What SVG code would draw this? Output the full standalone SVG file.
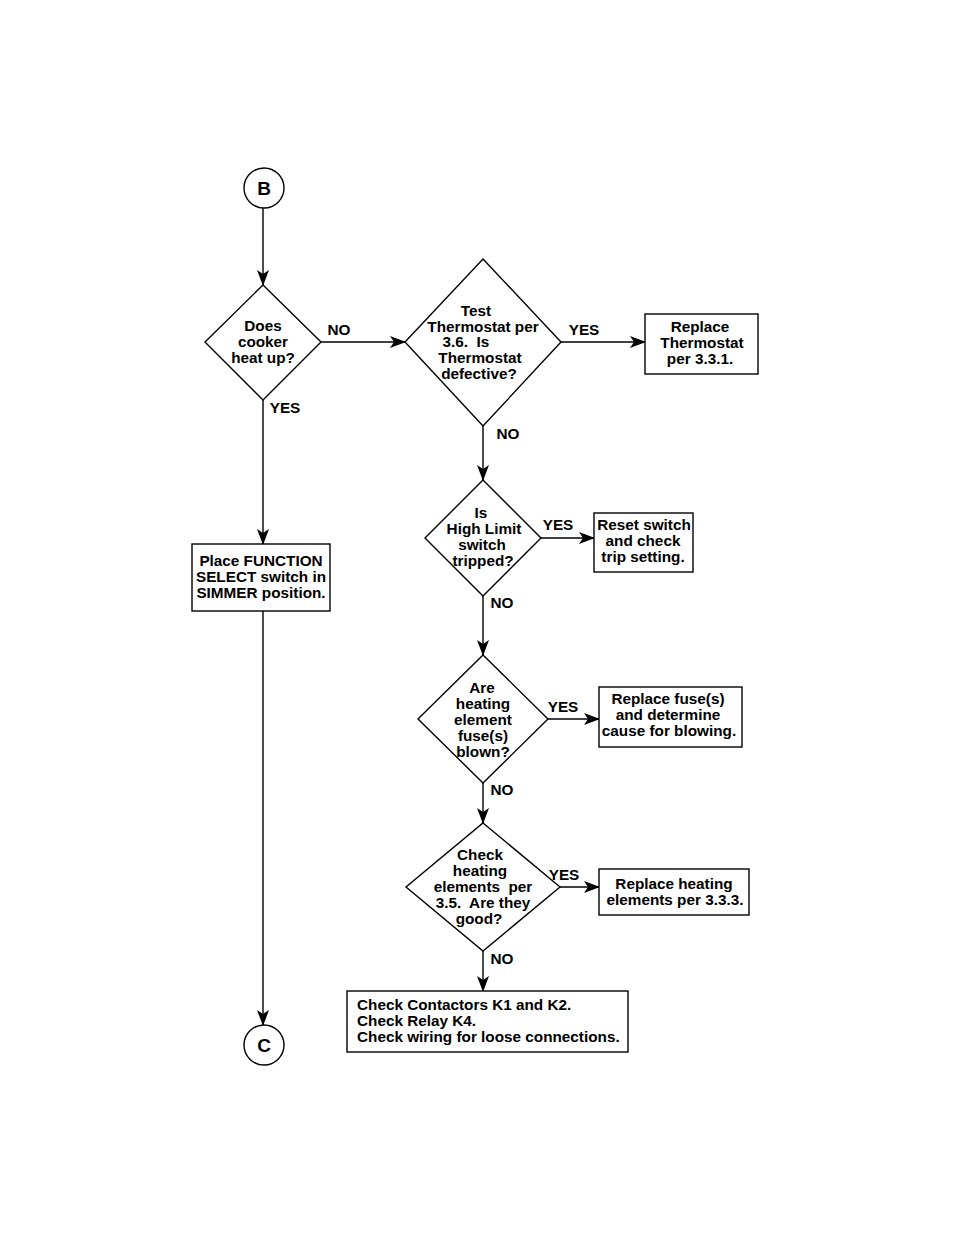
<svg xmlns="http://www.w3.org/2000/svg" width="954" height="1235" viewBox="0 0 954 1235">
<defs>
<marker id="ah" markerWidth="16" markerHeight="14" refX="15" refY="7" orient="auto" markerUnits="userSpaceOnUse">
<path d="M0,1 L16,7 L0,13 L4,7 z" fill="#000"/>
</marker>
<style>
.s{fill:#fff;stroke:#000;stroke-width:1.4}
.c{fill:none;stroke:#000;stroke-width:1.4}
text{font-family:"Liberation Sans",Arial,Helvetica,sans-serif;font-weight:bold;font-size:15.3px;fill:#000;white-space:pre}
.m{text-anchor:middle}
.b{font-size:19px}
</style>
</defs>
<rect width="954" height="1235" fill="#fff"/>
<g id="connectors">
<line class="c" x1="263" y1="208" x2="263" y2="285" marker-end="url(#ah)"/>
<line class="c" x1="321" y1="342" x2="405" y2="342" marker-end="url(#ah)"/>
<line class="c" x1="561" y1="342" x2="645" y2="342" marker-end="url(#ah)"/>
<line class="c" x1="263" y1="400" x2="263" y2="544" marker-end="url(#ah)"/>
<line class="c" x1="263" y1="611" x2="263" y2="1025" marker-end="url(#ah)"/>
<line class="c" x1="483" y1="426" x2="483" y2="480" marker-end="url(#ah)"/>
<line class="c" x1="541" y1="538" x2="594" y2="538" marker-end="url(#ah)"/>
<line class="c" x1="483" y1="596" x2="483" y2="655" marker-end="url(#ah)"/>
<line class="c" x1="548" y1="719" x2="599" y2="719" marker-end="url(#ah)"/>
<line class="c" x1="483" y1="783" x2="483" y2="823" marker-end="url(#ah)"/>
<line class="c" x1="560" y1="887" x2="599" y2="887" marker-end="url(#ah)"/>
<line class="c" x1="483" y1="951" x2="483" y2="991" marker-end="url(#ah)"/>
<text x="339" y="335" class="m">NO</text>
<text x="584" y="335" class="m">YES</text>
<text x="285" y="413" class="m">YES</text>
<text x="508" y="439" class="m">NO</text>
<text x="558" y="530" class="m">YES</text>
<text x="502" y="608" class="m">NO</text>
<text x="563" y="712" class="m">YES</text>
<text x="502" y="795" class="m">NO</text>
<text x="564" y="880" class="m">YES</text>
<text x="502" y="964" class="m">NO</text>
</g>
<g id="nodeB">
<circle class="s" cx="264" cy="188" r="20"/>
<text x="264" y="195" class="m b">B</text>
</g>
<g id="d1">
<polygon class="s" points="263,285 321,342 263,400 205,342"/>
<text x="263" y="331" class="m">Does</text>
<text x="263" y="347" class="m">cooker</text>
<text x="263" y="363" class="m">heat up?</text>
</g>
<g id="d2">
<polygon class="s" points="483,259 561,342 483,426 405,342"/>
<text x="476" y="316" class="m">Test</text>
<text x="483" y="332" class="m">Thermostat per</text>
<text x="466" y="347" class="m">3.6.  Is</text>
<text x="480" y="363" class="m">Thermostat</text>
<text x="479" y="379" class="m">defective?</text>
</g>
<g id="b1">
<rect class="s" x="645" y="314" width="113" height="60"/>
<text x="700" y="332" class="m">Replace</text>
<text x="702" y="348" class="m">Thermostat</text>
<text x="700" y="364" class="m">per 3.3.1.</text>
</g>
<g id="b2">
<rect class="s" x="192" y="544" width="138" height="67"/>
<text x="261" y="566" class="m">Place FUNCTION</text>
<text x="261" y="582" class="m">SELECT switch in</text>
<text x="261" y="598" class="m">SIMMER position.</text>
</g>
<g id="d3">
<polygon class="s" points="483,480 541,538 483,596 425,538"/>
<text x="481" y="518" class="m">Is</text>
<text x="484" y="534" class="m">High Limit</text>
<text x="482" y="550" class="m">switch</text>
<text x="483" y="566" class="m">tripped?</text>
</g>
<g id="b3">
<rect class="s" x="594" y="513" width="99" height="59"/>
<text x="644" y="530" class="m">Reset switch</text>
<text x="643" y="546" class="m">and check</text>
<text x="643" y="562" class="m">trip setting.</text>
</g>
<g id="d4">
<polygon class="s" points="483,655 548,719 483,783 418,719"/>
<text x="482" y="693" class="m">Are</text>
<text x="483" y="709" class="m">heating</text>
<text x="483" y="725" class="m">element</text>
<text x="483" y="741" class="m">fuse(s)</text>
<text x="483" y="757" class="m">blown?</text>
</g>
<g id="b4">
<rect class="s" x="599" y="687" width="143" height="60"/>
<text x="668" y="704" class="m">Replace fuse(s)</text>
<text x="668" y="720" class="m">and determine</text>
<text x="669" y="736" class="m">cause for blowing.</text>
</g>
<g id="d5">
<polygon class="s" points="483,823 560,887 483,951 406,887"/>
<text x="480" y="860" class="m">Check</text>
<text x="480" y="876" class="m">heating</text>
<text x="483" y="892" class="m">elements  per</text>
<text x="483" y="908" class="m">3.5.  Are they</text>
<text x="479" y="924" class="m">good?</text>
</g>
<g id="b5">
<rect class="s" x="599" y="869" width="150" height="46"/>
<text x="674" y="889" class="m">Replace heating</text>
<text x="675" y="905" class="m">elements per 3.3.3.</text>
</g>
<g id="b6">
<rect class="s" x="347" y="991" width="281" height="61"/>
<text x="357" y="1010">Check Contactors K1 and K2.</text>
<text x="357" y="1026">Check Relay K4.</text>
<text x="357" y="1042">Check wiring for loose connections.</text>
</g>
<g id="nodeC">
<circle class="s" cx="264" cy="1045" r="20"/>
<text x="264" y="1052" class="m b">C</text>
</g>
</svg>
